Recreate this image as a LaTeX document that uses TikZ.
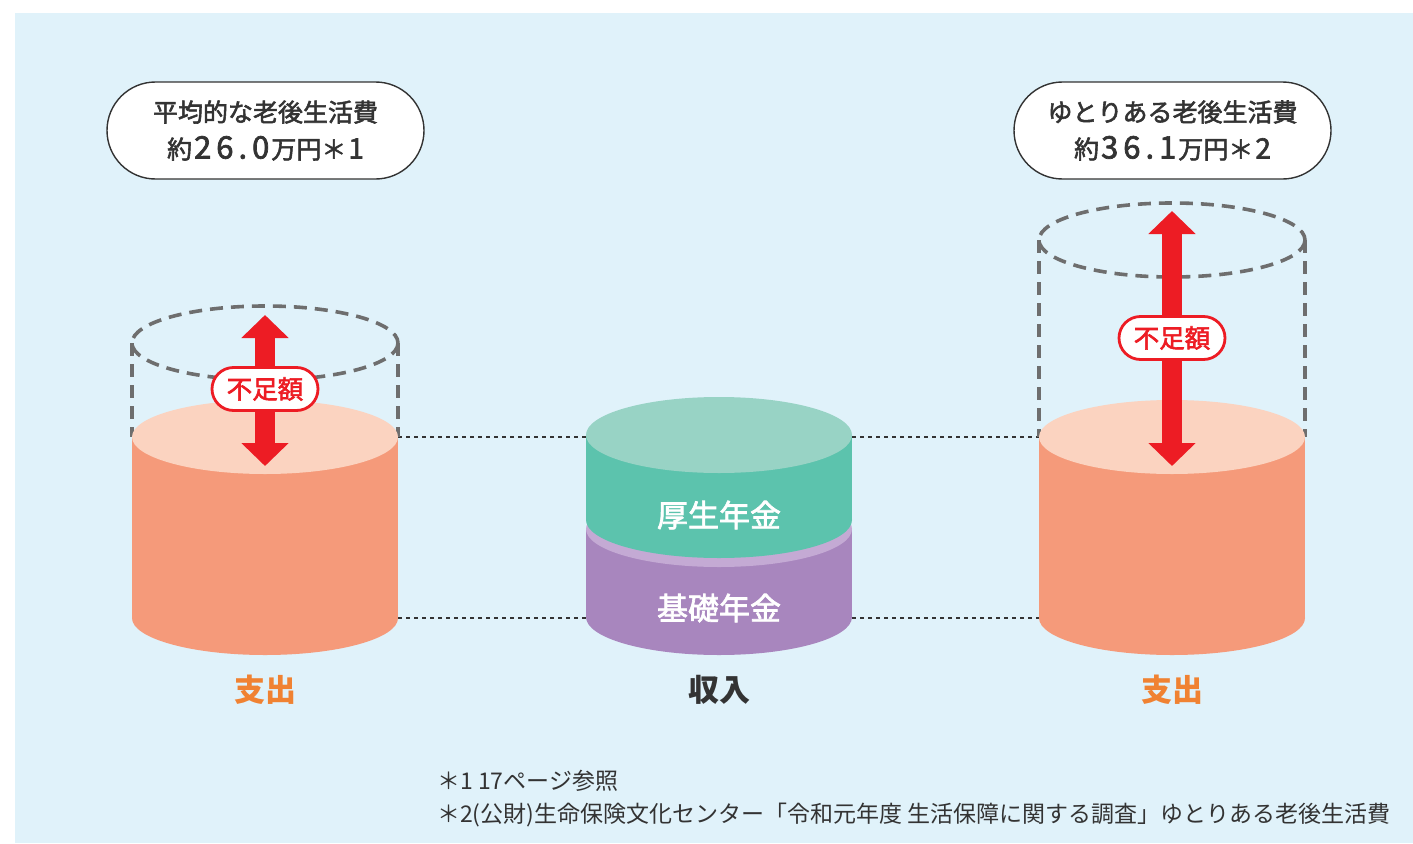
\documentclass[tikz,border=0pt]{standalone}
\usepackage{fontspec}
\setmainfont{Noto Sans CJK JP}
\newfontfamily\medfont[FakeBold=2.2]{Noto Sans CJK JP}
\usetikzlibrary{arrows.meta,shapes.misc}
\definecolor{bg}{HTML}{E0F2FA}
\definecolor{orside}{HTML}{F59A7A}
\definecolor{ortop}{HTML}{FBD3C0}
\definecolor{grside}{HTML}{5CC3AD}
\definecolor{grtop}{HTML}{98D3C5}
\definecolor{puside}{HTML}{A886BE}
\definecolor{putop}{HTML}{C4AAD4}
\definecolor{arred}{HTML}{ED1C24}
\definecolor{dashgray}{HTML}{6E6E6E}
\definecolor{txt}{HTML}{333333}
\definecolor{orlabel}{HTML}{F08232}
\newcommand\bignum[4]{{\fontsize{31}{37}\selectfont\kern2pt #1\kern5pt #2\kern5pt #3\kern5pt #4\kern2pt}}
\tikzset{
  pill/.style={rounded rectangle, draw=txt, line width=1.4pt, fill=white, minimum width=317pt, minimum height=97pt, align=center, text=txt, font=\fontsize{25}{37}\selectfont\medfont, inner sep=0pt},
  shortlbl/.style={rounded rectangle, draw=arred, line width=2.8pt, fill=white, minimum width=106pt, minimum height=43pt, text=arred, font=\fontsize{25.5}{30}\selectfont\medfont, inner sep=0pt},
  gap/.style={draw=arred, line width=20pt, {Triangle[length=23pt,width=46pt]}-{Triangle[length=23pt,width=46pt]}},
  ghost/.style={draw=dashgray, line width=3.6pt, dash pattern=on 13pt off 8pt},
  guide/.style={draw=txt, line width=1.1pt, dash pattern=on 4pt off 4pt},
  bottomlbl/.style={font=\fontsize{31}{36}\selectfont\bfseries},
  pension/.style={text=white, font=\fontsize{31}{36}\selectfont\medfont},
  note/.style={anchor=west, text=txt, font=\fontsize{23}{26}\selectfont, inner sep=0pt}
}
\begin{document}
\begin{tikzpicture}[x=1pt,y=-1pt]
\useasboundingbox (0,0) rectangle (1413,843);
\fill[bg] (15,13) rectangle (1413,843);

% guide lines
\coordinate (gL1) at (398,437); \coordinate (gM1a) at (586,437);
\coordinate (gM1b) at (852,437); \coordinate (gR1) at (1040,437);
\coordinate (gL2) at (398,618); \coordinate (gM2a) at (586,618);
\coordinate (gM2b) at (852,618); \coordinate (gR2) at (1040,618);
\draw[guide] (gL1) -- (gM1a); \draw[guide] (gM1b) -- (gR1);
\draw[guide] (gL2) -- (gM2a); \draw[guide] (gM2b) -- (gR2);

% left ghost cylinder
\draw[ghost] (265,343) ellipse [x radius=133, y radius=37];
\draw[ghost] (132,343) -- (132,437);
\draw[ghost] (398,343) -- (398,437);
% left cylinder
\fill[orside] (265,618) ellipse [x radius=133, y radius=37];
\fill[orside] (132,437) rectangle (398,618);
\fill[ortop] (265,437) ellipse [x radius=133, y radius=37];

% right ghost cylinder
\draw[ghost] (1172,240) ellipse [x radius=133, y radius=37];
\draw[ghost] (1039,240) -- (1039,437);
\draw[ghost] (1305,240) -- (1305,437);
% right cylinder
\fill[orside] (1172,618) ellipse [x radius=133, y radius=37];
\fill[orside] (1039,437) rectangle (1305,618);
\fill[ortop] (1172,437) ellipse [x radius=133, y radius=37];

% middle cylinder
\fill[puside] (719,617) ellipse [x radius=133, y radius=38];
\fill[puside] (586,529) rectangle (852,617);
\fill[putop] (719,529) ellipse [x radius=133, y radius=38];
\fill[grside] (719,520) ellipse [x radius=133, y radius=38];
\fill[grside] (586,435) rectangle (852,520);
\fill[grtop] (719,435) ellipse [x radius=133, y radius=38];
\node[pension] (kousei) at (719,515) {厚生年金};
\node[pension] (kiso) at (719,608) {基礎年金};

% arrows
\coordinate (aLt) at (265,315); \coordinate (aLb) at (265,466);
\coordinate (aRt) at (1172,211); \coordinate (aRb) at (1172,466);
\path[gap] (aLt) -- (aLb);
\path[gap] (aRt) -- (aRb);
\node[shortlbl] (shortL) at (265,389) {不足額};
\node[shortlbl] (shortR) at (1172,338) {不足額};

% top pills
\node[pill] (avg) at (265.5,130.5) {平均的な老後生活費\\約\bignum26.0万円＊{\fontsize{28}{37}\selectfont\kern2pt 1}};
\node[pill] (yutori) at (1172.5,130.5) {ゆとりある老後生活費\\約\bignum36.1万円＊{\fontsize{28}{37}\selectfont\kern2pt 2}};

% bottom labels
\node[bottomlbl, text=orlabel] (outL) at (265,690) {支出};
\node[bottomlbl, text=txt] (inc) at (719,690) {収入};
\node[bottomlbl, text=orlabel] (outR) at (1172,690) {支出};

% notes
\node[note] (n1) at (437,781) {＊1 17ページ参照};
\node[note] (n2) at (437,815) {＊2(公財)生命保険文化センター「令和元年度 生活保障に関する調査」ゆとりある老後生活費};
\end{tikzpicture}
\end{document}
